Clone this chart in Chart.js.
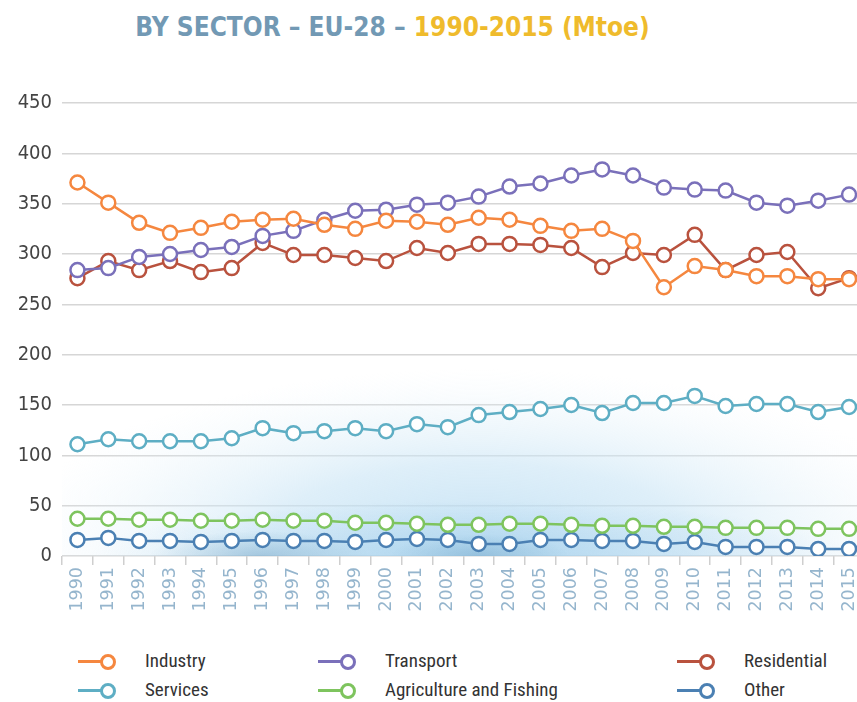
<!DOCTYPE html>
<html><head><meta charset="utf-8">
<script src="https://cdn.jsdelivr.net/npm/chart.js@4/dist/chart.umd.min.js"></script>
<style>
html,body{margin:0;padding:0;background:#fff;overflow:hidden;width:857px;height:702px;}
#title{position:absolute;top:12px;left:0;width:785px;text-align:center;font-family:"DejaVu Sans Condensed","DejaVu Sans",sans-serif;font-weight:bold;font-size:26px;}
#title .a{color:#7299b4}#title .b{color:#efbb2c}
#wrap{position:absolute;top:0;left:0;width:874px;height:645px;}
#legend{position:absolute;top:648px;left:0;width:857px;height:54px;font-family:"Liberation Sans Narrow","Roboto Condensed","DejaVu Sans Condensed",sans-serif;font-size:19px;color:#333;}
.li{position:absolute;height:26px;line-height:26px;}
.li .ln{position:absolute;top:12px;left:0;width:26px;height:3px;}
.li .ci{position:absolute;top:6px;left:22px;width:10px;height:10px;border-radius:50%;border:3px solid;background:#fff;}
.li .tx{position:absolute;left:67px;top:0;white-space:nowrap;}
</style></head><body>
<div id="title"><span class="a">BY SECTOR – EU-28 – </span><span class="b">1990-2015 (Mtoe)</span></div>
<div id="wrap"><canvas id="c" width="874" height="645" style="width:874px;height:645px"></canvas></div>
<div id="legend"></div>
<script>
const years = ["1990","1991","1992","1993","1994","1995","1996","1997","1998","1999","2000","2001","2002","2003","2004","2005","2006","2007","2008","2009","2010","2011","2012","2013","2014","2015"];
const industry    = [371,351,331,321,326,332,334,335,329,325,333,332,329,336,334,328,323,325,313,267,288,284,278,278,275,275];
const transport   = [284,286,297,300,304,307,318,323,334,343,344,349,351,357,367,370,378,384,378,366,364,363,351,348,353,359];
const residential = [276,293,284,293,282,286,311,299,299,296,293,306,301,310,310,309,306,287,301,299,319,284,299,302,266,276];
const services    = [111,116,114,114,114,117,127,122,124,127,124,131,128,140,143,146,150,142,152,152,159,149,151,151,143,148];
const agriculture = [37,37,36,36,35,35,36,35,35,33,33,32,31,31,32,32,31,30,30,29,29,28,28,28,27,27];
const other       = [16,18,15,15,14,15,16,15,15,14,16,17,16,12,12,16,16,15,15,12,14,9,9,9,7,7];
const yTicks = [0,50,100,150,200,250,300,350,400,450];

const series = [
  {label:"Industry", data:industry, color:"#f5873f"},
  {label:"Transport", data:transport, color:"#7a70ba"},
  {label:"Residential", data:residential, color:"#b9523e"},
  {label:"Services", data:services, color:"#5eaec4"},
  {label:"Agriculture and Fishing", data:agriculture, color:"#7ec45e"},
  {label:"Other", data:other, color:"#4b80b3"}
];

function blob(ctx, a, cx, cy, rx, ry, stops){
  ctx.save();
  ctx.beginPath(); ctx.rect(a.left, a.top, a.right-a.left, a.bottom-a.top); ctx.clip();
  ctx.translate(cx, cy); ctx.scale(1, ry/rx);
  const g = ctx.createRadialGradient(0,0,0,0,0,rx);
  stops.forEach(s=>g.addColorStop(s[0], s[1]));
  ctx.fillStyle=g; ctx.beginPath(); ctx.arc(0,0,rx,0,Math.PI*2); ctx.fill();
  ctx.restore();
}
const glow = {
  id:'glow',
  beforeDatasetsDraw(chart){
    const {ctx, chartArea:a} = chart;
    blob(ctx, a, 480, a.bottom-15, 470, 172, [[0,'rgba(185,220,242,0.8)'],[0.45,'rgba(200,228,245,0.6)'],[0.75,'rgba(220,238,248,0.3)'],[1,'rgba(235,245,252,0)']]);
    blob(ctx, a, 470, a.bottom, 380, 55, [[0,'rgba(150,200,232,0.55)'],[1,'rgba(160,205,235,0)']]);
    blob(ctx, a, 260, a.bottom, 110, 25, [[0,'rgba(110,160,195,0.45)'],[1,'rgba(120,170,200,0)']]);
    blob(ctx, a, 480, a.bottom, 90, 22, [[0,'rgba(110,160,195,0.4)'],[1,'rgba(120,170,200,0)']]);
  }
};

new Chart(document.getElementById('c'), {
  type:'line',
  data:{labels:years, datasets:series.map(s=>({
    label:s.label, data:s.data, borderColor:s.color, backgroundColor:'#fff',
    borderWidth:2.5, pointRadius:7, pointBorderWidth:2.5, pointBackgroundColor:'#fff',
    pointBorderColor:s.color, tension:0, fill:false
  }))},
  options:{
    responsive:false, animation:false, devicePixelRatio:1,
    layout:{padding:{top:103,left:0,right:0,bottom:0}},
    plugins:{legend:{display:false}, tooltip:{enabled:false}},
    scales:{
      x:{offset:true,
        grid:{display:true, offset:true, drawOnChartArea:false, color:'#cfcfcf', tickLength:9, lineWidth:1.5},
        border:{display:false},
        ticks:{maxRotation:90, minRotation:90, color:'#95b5cd', font:{family:'"DejaVu Sans"', size:17.5}, padding:2, autoSkip:false},
        afterFit(s){ s.height = 89; }
      },
      y:{min:0,max:450,
        afterBuildTicks(s){ s.ticks = yTicks.map(v=>({value:v})); },
        grid:{color:'#d6d6d6', lineWidth:1.5, drawTicks:false},
        border:{display:false},
        ticks:{color:'#444', font:{family:'"Liberation Sans Narrow","DejaVu Sans Condensed",sans-serif', size:20}, padding:10},
        afterFit(s){ s.width = 62; }
      }
    }
  },
  plugins:[glow]
});

const pos = [[78,661],[318,661],[677,661],[78,690],[318,690],[677,690]];
const lg = document.getElementById('legend');
series.forEach((s,i)=>{
  const d=document.createElement('div'); d.className='li';
  d.style.left=pos[i][0]+'px'; d.style.top=(pos[i][1]-648-13)+'px';
  d.innerHTML='<span class="ln" style="background:'+s.color+'"></span><span class="ci" style="border-color:'+s.color+'"></span><span class="tx">'+s.label+'</span>';
  lg.appendChild(d);
});
</script>
</body></html>
